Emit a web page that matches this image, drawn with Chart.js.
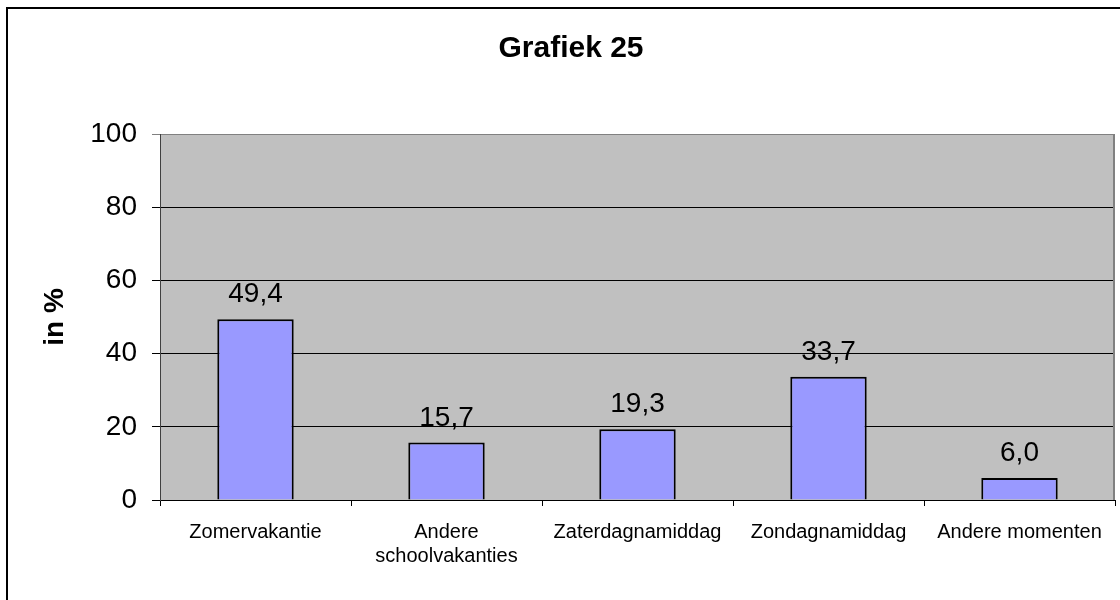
<!DOCTYPE html>
<html>
<head>
<meta charset="utf-8">
<script src="https://cdn.jsdelivr.net/npm/chart.js@4/dist/chart.umd.min.js"></script>
<style>
  html, body { margin: 0; padding: 0; background: #fff; }
  #wrap { width: 1120px; height: 600px; }
</style>
</head>
<body>
<div id="wrap"><canvas id="chart" width="1120" height="600"></canvas></div>
<script>
const TITLE = "Grafiek 25";
const Y_TITLE = "in %";
const CATEGORIES = [
  "Zomervakantie",
  ["Andere", "schoolvakanties"],
  "Zaterdagnamiddag",
  "Zondagnamiddag",
  "Andere momenten"
];
const VALUES = [49.4, 15.7, 19.3, 33.7, 6.0];
const Y_TICKS = [0, 20, 40, 60, 80, 100];

const FONT = "'Liberation Sans', Arial, sans-serif";

/* grey plot area + frame round the whole picture */
const backdrop = {
  id: "backdrop",
  beforeDraw(chart) {
    const { ctx, chartArea: a } = chart;
    ctx.save();
    ctx.fillStyle = "#fff";
    ctx.fillRect(0, 0, chart.width, chart.height);
    ctx.strokeStyle = "#000";
    ctx.lineWidth = 2;
    ctx.strokeRect(7, 8, 1300, 800);
    ctx.fillStyle = "#c0c0c0";
    ctx.fillRect(a.left, a.top, a.right - a.left, a.bottom - a.top);
    ctx.restore();
  },
  afterDatasetsDraw(chart) {
    const { ctx, chartArea: a } = chart;
    ctx.save();
    ctx.strokeStyle = "#808080";
    ctx.lineWidth = 2;
    ctx.beginPath();
    ctx.moveTo(a.right - 1, a.top);
    ctx.lineTo(a.right - 1, a.bottom);
    ctx.stroke();
    ctx.restore();
  }
};

/* value labels above the bars */
const valueLabels = {
  id: "valueLabels",
  afterDatasetsDraw(chart) {
    const { ctx } = chart;
    const meta = chart.getDatasetMeta(0);
    ctx.save();
    ctx.font = "28px " + FONT;
    ctx.fillStyle = "#000";
    ctx.textAlign = "center";
    ctx.textBaseline = "alphabetic";
    meta.data.forEach((bar, i) => {
      ctx.fillText(VALUES[i].toFixed(1).replace(".", ","), bar.x, bar.y - 17);
    });
    ctx.restore();
  }
};

new Chart(document.getElementById("chart"), {
  type: "bar",
  data: {
    labels: CATEGORIES,
    datasets: [{
      data: VALUES,
      backgroundColor: "#9999ff",
      borderColor: "#000",
      borderWidth: 2,
      barPercentage: 0.4,
      categoryPercentage: 1.0
    }]
  },
  options: {
    responsive: false,
    animation: false,
    layout: { padding: { left: 27, right: 5, top: 0, bottom: 0 } },
    plugins: {
      legend: { display: false },
      tooltip: { enabled: false },
      title: {
        display: true,
        text: TITLE,
        color: "#000",
        font: { family: FONT, size: 30, weight: "bold" },
        padding: { top: 31, bottom: 67 }
      }
    },
    scales: {
      x: {
        afterFit(s) { s.height = 100; },
        grid: {
          display: true,
          offset: true,
          drawOnChartArea: false,
          color: "#000",
          tickLength: 6
        },
        border: { color: "#000", width: 1 },
        ticks: {
          color: "#000",
          font: { family: FONT, size: 20 },
          padding: 14,
          maxRotation: 0,
          autoSkip: false
        }
      },
      y: {
        min: 0,
        max: 100,
        afterFit(s) { s.width = 133; },
        afterBuildTicks(s) { s.ticks = Y_TICKS.map(v => ({ value: v })); },
        grid: {
          color: c => (c.tick && c.tick.value === 100 ? "#808080" : "#000"),
          tickLength: 8
        },
        border: { color: "#404040", width: 1 },
        ticks: {
          color: "#000",
          font: { family: FONT, size: 28 },
          padding: 15
        },
        title: {
          display: true,
          text: Y_TITLE,
          color: "#000",
          font: { family: FONT, size: 28, weight: "bold" },
          padding: { top: 11, bottom: 0 }
        }
      }
    }
  },
  plugins: [backdrop, valueLabels]
});
</script>
</body>
</html>
